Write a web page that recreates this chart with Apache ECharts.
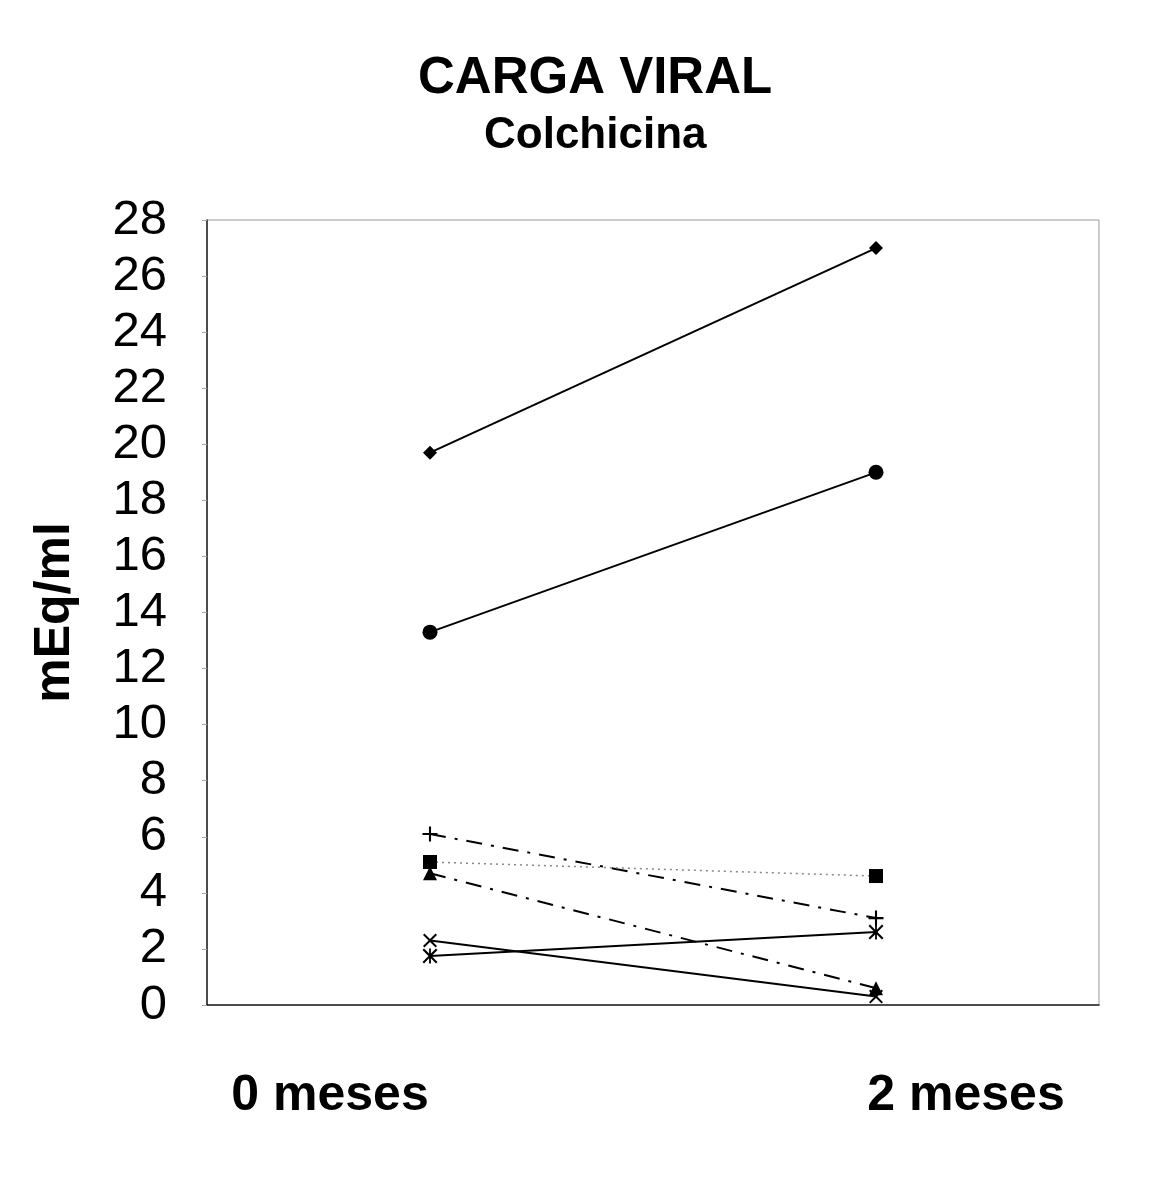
<!DOCTYPE html>
<html>
<head>
    <meta charset="utf-8">
    <title>Carga viral</title>
    <script src="https://cdn.jsdelivr.net/npm/echarts@6/dist/echarts.min.js"></script>
    <style>
        html, body { margin: 0; padding: 0; background: #ffffff; }
        #chart { width: 1162px; height: 1201px; }
    </style>
</head>
<body>
<div id="chart"></div>
<script>
    // datos
    var meses = ['0 meses', '2 meses'];
    var serieRombo = [19.7, 27];
    var serieCirculo = [13.3, 19];
    var serieMas = [6.1, 3.1];
    var serieCuadrado = [5.1, 4.6];
    var serieTriangulo = [4.7, 0.6];
    var serieCruz = [2.3, 0.3];
    var serieAsterisco = [1.75, 2.6];

    var fuente = 'Liberation Sans, Arial, sans-serif';

    // simbolos de trazo fino
    var simMas = 'path://M4.3,0h1.4v4.3h4.3v1.4h-4.3v4.3h-1.4v-4.3h-4.3v-1.4h4.3z';
    var simCruz = 'path://M0,1L1,0L5,4L9,0L10,1L6,5L10,9L9,10L5,6L1,10L0,9L4,5z';
    var simAsterisco = 'path://M0,1L1,0L4.4,3.4V0h1.2v3.4L9,0L10,1L6,5L10,9L9,10L5.6,6.6V10h-1.2V6.6L1,10L0,9L4,5z';

    var chart = echarts.init(document.getElementById('chart'));

    function linea(datos, simbolo, tam, estilo) {
        return {
            type: 'line',
            data: datos,
            symbol: simbolo,
            symbolSize: tam,
            showAllSymbol: true,
            itemStyle: { color: '#000' },
            lineStyle: estilo,
            animation: false
        };
    }

    var option = {
        backgroundColor: '#ffffff',
        title: [
            {
                text: 'CARGA VIRAL',
                left: 413,
                top: 48,
                textStyle: { fontFamily: fuente, fontSize: 51, fontWeight: 'bold', color: '#000' }
            },
            {
                text: 'Colchicina',
                left: 479,
                top: 109,
                textStyle: { fontFamily: fuente, fontSize: 44, fontWeight: 'bold', color: '#000' }
            }
        ],
        grid: {
            left: 207,
            right: 63,
            top: 220,
            bottom: 196,
            show: true,
            borderColor: '#999',
            borderWidth: 1
        },
        xAxis: {
            type: 'category',
            data: meses,
            boundaryGap: true,
            axisLine: { lineStyle: { color: '#222', width: 1.5 } },
            axisTick: { show: false },
            axisLabel: {
                margin: 66,
                interval: 0,
                formatter: function (v, i) {
                    return i === 0 ? '{a|' + v + '}' : '{b|' + v + '}';
                },
                rich: {
                    a: { fontFamily: fuente, fontSize: 50, fontWeight: 'bold', color: '#000', padding: [0, 200, 0, 0] },
                    b: { fontFamily: fuente, fontSize: 50, fontWeight: 'bold', color: '#000', padding: [0, 0, 0, 180] }
                }
            }
        },
        yAxis: {
            type: 'value',
            min: 0,
            max: 28,
            interval: 2,
            name: 'mEq/ml',
            nameLocation: 'middle',
            nameGap: 127,
            nameTextStyle: { fontFamily: fuente, fontSize: 50, fontWeight: 'bold', color: '#000' },
            axisLine: { show: true, lineStyle: { color: '#222', width: 1.5 } },
            axisTick: { show: true, length: 5, lineStyle: { color: '#aaa' } },
            splitLine: { show: false },
            axisLabel: {
                margin: 40,
                fontFamily: fuente,
                fontSize: 49,
                color: '#000'
            }
        },
        series: [
            linea(serieRombo, 'diamond', 14, { color: '#000', width: 2, type: 'solid' }),
            linea(serieCirculo, 'circle', 15, { color: '#000', width: 2, type: 'solid' }),
            linea(serieMas, simMas, 15, { color: '#000', width: 2, type: [16, 9, 3, 9] }),
            linea(serieCuadrado, 'rect', 14, { color: '#888', width: 1.5, type: [2, 4] }),
            linea(serieTriangulo, 'triangle', 14, { color: '#000', width: 2, type: [16, 9, 3, 9] }),
            linea(serieCruz, simCruz, 14, { color: '#000', width: 2, type: 'solid' }),
            linea(serieAsterisco, simAsterisco, 15, { color: '#000', width: 2, type: 'solid' })
        ]
    };

    chart.setOption(option);

    window.onresize = function () {
        chart.resize();
    };
</script>
</body>
</html>
